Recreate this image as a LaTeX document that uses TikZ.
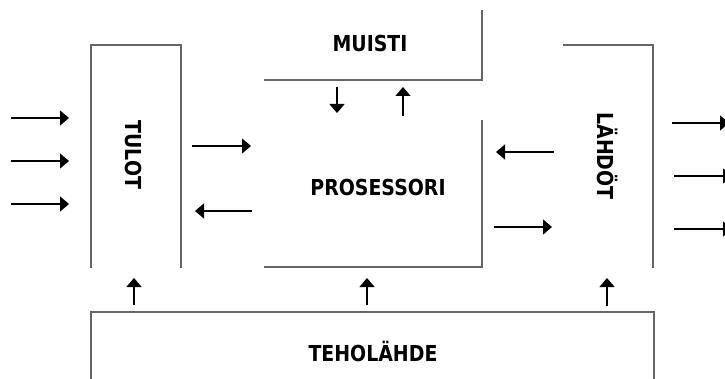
\documentclass[tikz,border=0pt]{standalone}
\usepackage{fontspec}
\setmainfont{DejaVu Sans}[FakeStretch=0.86]
\usetikzlibrary{arrows.meta}
\tikzset{
  unit/.style={draw=none, inner sep=0pt, outer sep=0pt, rectangle},
  side/.style={draw=black!60, line width=1.3pt},
  lbl/.style={inner sep=0pt, font=\fontsize{22}{26}\selectfont\bfseries},
  flow/.style={draw=black, line width=1.4pt,
    -{Triangle[length=9pt,width=15pt]}},
}
\begin{document}
\begin{tikzpicture}[x=1pt,y=-1pt]
  \useasboundingbox (0,0) rectangle (725,379);

  % blocks (only their visible sides are stroked)
  \node[unit, minimum width=90pt,  minimum height=223pt] (tulot)  at (136,156.5) {};
  \node[unit, minimum width=218pt, minimum height=70pt]  (muisti) at (373,45) {};
  \node[unit, minimum width=218pt, minimum height=147pt] (cpu)    at (373,193.5) {};
  \node[unit, minimum width=90pt,  minimum height=223pt] (lahdot) at (608,156.5) {};
  \node[unit, minimum width=563pt, minimum height=80pt]  (power)  at (372.5,352) {};

  \draw[side] (tulot.south west) -- (tulot.north west) -- (tulot.north east) -- (tulot.south east);
  \draw[side] (muisti.north east) -- (muisti.south east) -- (muisti.south west);
  \draw[side] (cpu.north east) -- (cpu.south east) -- (cpu.south west);
  \draw[side] (lahdot.north west) -- (lahdot.north east) -- (lahdot.south east);
  \draw[side] (power.south west) -- (power.north west) -- (power.north east) -- (power.south east);

  % labels
  \node[lbl, rotate=-90] (tulotT)  at (134,155) {TULOT};
  \node[lbl]             (muistiT) at (370,43)  {MUISTI};
  \node[lbl]             (cpuT)    at (378,187) {PROSESSORI};
  \node[lbl, rotate=-90] (lahdotT) at (608,156) {LÄHDÖT};
  \node[lbl]             (powerT)  at (373,351) {TEHOLÄHDE};

  % arrow end points
  \coordinate (i1a) at (11,118);  \coordinate (i1b) at (69,118);
  \coordinate (i2a) at (11,161);  \coordinate (i2b) at (69,161);
  \coordinate (i3a) at (11,204);  \coordinate (i3b) at (69,204);
  \coordinate (tpa) at (192,146); \coordinate (tpb) at (251,146);
  \coordinate (pta) at (252,211); \coordinate (ptb) at (195,211);
  \coordinate (mpa) at (337,87);  \coordinate (mpb) at (337,113);
  \coordinate (pma) at (403,116); \coordinate (pmb) at (403,87);
  \coordinate (lpa) at (554,152); \coordinate (lpb) at (496,152);
  \coordinate (pla) at (494,227); \coordinate (plb) at (552,227);
  \coordinate (o1a) at (672,123); \coordinate (o1b) at (729,123);
  \coordinate (o2a) at (674,176); \coordinate (o2b) at (732,176);
  \coordinate (o3a) at (674,229); \coordinate (o3b) at (732,229);
  \coordinate (u1a) at (134,305); \coordinate (u1b) at (134,278);
  \coordinate (u2a) at (367,305); \coordinate (u2b) at (367,278);
  \coordinate (u3a) at (607,306); \coordinate (u3b) at (607,278);

  % signal flows
  \foreach \p in {i1,i2,i3,tp,pt,mp,pm,lp,pl,o1,o2,o3,u1,u2,u3}
    \draw[flow] (\p a) -- (\p b);
\end{tikzpicture}
\end{document}
